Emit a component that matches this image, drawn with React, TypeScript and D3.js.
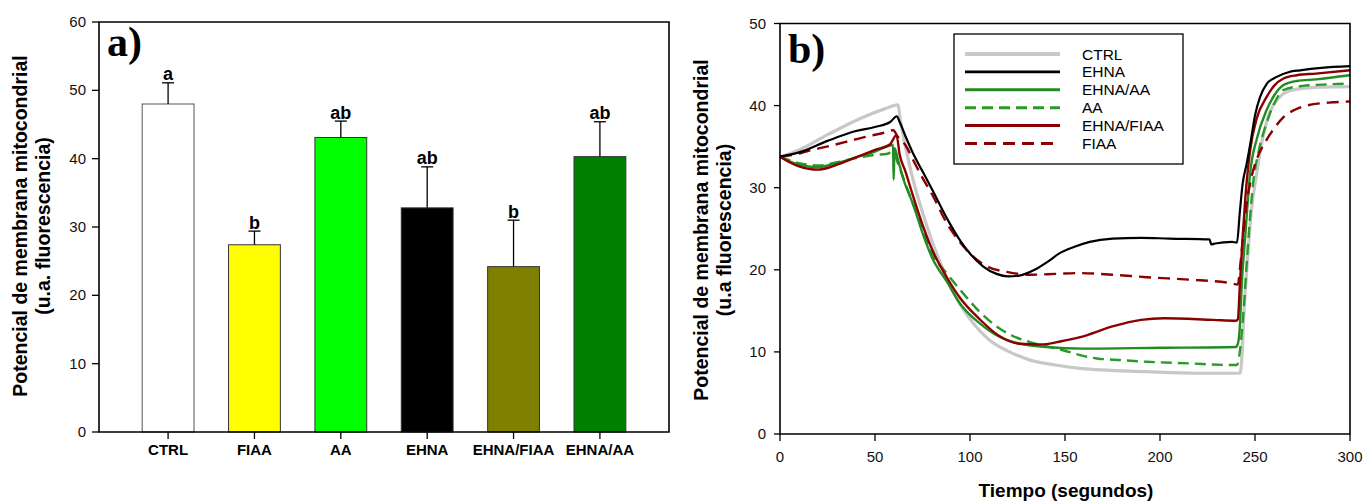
import * as d3 from 'd3';

const barCategories = ['CTRL', 'FIAA', 'AA', 'EHNA', 'EHNA/FIAA', 'EHNA/AA'];
const barMeans = [48.0, 27.4, 43.1, 32.8, 24.2, 40.3];
const barErrors = [3.1, 2.0, 2.4, 6.0, 6.8, 5.1];
const barLetters = ['a', 'b', 'ab', 'ab', 'b', 'ab'];
const barTicks = [0, 10, 20, 30, 40, 50, 60];

const timeTicks = [0, 50, 100, 150, 200, 250, 300];
const signalTicks = [0, 10, 20, 30, 40, 50];

// [tiempo, fluorescencia]
const ctrlSeries: [number, number][] = [
  [0, 33.7], [10, 34.6], [24.6, 36.4], [42, 38.4], [55, 39.6], [62, 40.1],
  [63.5, 38], [66, 35], [70, 31], [75, 27], [80, 23.5], [85, 20.5], [90, 17.8],
  [95, 15.7], [100, 14], [110.5, 11.4], [120, 10.1], [131.6, 9.0], [145, 8.4],
  [158, 8.0], [193, 7.6], [220, 7.4], [242, 7.4], [243, 9], [244, 14], [246, 21],
  [248, 27], [250.9, 31.7], [254, 36], [258, 39.3], [262, 40.8], [268.4, 41.8],
  [280, 42.2], [300, 42.3],
];
const ehnaSeries: [number, number][] = [
  [0, 33.8], [10, 34.3], [25, 35.7], [40, 36.9], [50, 37.4], [58, 38], [61.5, 38.7],
  [63, 38], [66, 36.3], [70, 34.2], [75, 32], [80, 29.8], [88, 26.2], [95, 23.5],
  [101, 21.7], [107, 20.4], [114, 19.5], [120, 19.2], [126, 19.3], [134, 20],
  [141, 21], [147, 22], [155, 22.8], [163, 23.4], [175, 23.8], [190, 23.9],
  [205, 23.8], [226, 23.7], [227, 23.1], [229, 23.2], [238, 23.4], [240.5, 23.3],
  [242, 27], [243.5, 30.5], [245.6, 32.9], [248, 36], [250, 38.8], [252.6, 41.0],
  [256, 42.6], [261.4, 43.5], [268, 44.1], [273.7, 44.3], [285, 44.6], [300, 44.8],
];
const ehnaAaSeries: [number, number][] = [
  [0, 33.8], [5, 33.2], [10, 32.8], [19.3, 32.5], [30, 33], [40, 33.7], [50, 34.4],
  [59.5, 35.2], [59.8, 31], [60.3, 34.8], [62, 33.5], [65, 31], [70, 28], [75, 24.5],
  [80, 21.5], [88, 18.5], [95, 15.8], [105, 13.5], [115, 11.9], [123, 11.2],
  [140, 10.6], [160, 10.4], [200, 10.5], [240, 10.6], [241, 11], [242, 13],
  [243, 18], [245, 24.5], [247.4, 31.7], [251, 36], [256, 39.4], [260, 41.2],
  [265, 42.5], [272, 43], [282, 43.2], [300, 43.7],
];
const aaSeries: [number, number][] = [
  [0, 33.8], [10, 33], [20, 32.7], [30, 33.1], [40, 33.6], [50, 34], [56, 34.1],
  [59.5, 34.4], [62, 33], [66, 30.5], [70, 28], [75, 25], [80, 22], [88, 19.5],
  [96.5, 17.1], [105, 14.9], [114, 13.1], [122, 12], [131.6, 11.2], [140, 10.7],
  [149, 10.2], [158, 9.6], [166.7, 9.2], [180, 9.0], [193, 8.8], [215, 8.6],
  [238.6, 8.4], [240.5, 8.4], [242, 10], [244, 15], [246, 22], [249, 30.5],
  [252, 34.5], [256, 37.8], [260, 40.2], [265, 41.9], [275, 42.4], [290, 42.6],
  [300, 42.7],
];
const ehnaFiaaSeries: [number, number][] = [
  [0, 33.8], [5, 33.1], [10, 32.6], [15, 32.3], [20, 32.2], [25, 32.4], [30, 32.8],
  [40, 33.7], [50, 34.6], [58, 35.3], [61.3, 36.4], [63, 34], [66, 32], [70, 29],
  [75, 25.5], [80, 22.5], [88, 19], [95, 16.5], [105, 14.0], [115, 12], [126, 11.0],
  [137, 10.9], [148, 11.3], [158, 11.8], [175, 13.1], [190, 13.9], [202, 14.1],
  [228, 13.9], [240, 13.8], [241, 14], [242, 18], [243.5, 24], [245, 29],
  [247.4, 34.5], [251, 38.5], [256, 41.0], [260, 42.4], [265, 43.3], [272, 43.7],
  [282, 43.9], [300, 44.3],
];
const fiaaSeries: [number, number][] = [
  [0, 33.8], [7, 34], [15, 34.5], [24.6, 35], [35, 35.6], [45, 36.2], [55, 36.7],
  [59.6, 37.0], [62, 36.2], [66, 35.2], [70, 33.4], [75, 31.2], [80, 29.2], [88, 25.6],
  [95, 23.3], [101.7, 21.6], [110, 20.3], [119.3, 19.75], [131.6, 19.4], [145, 19.5],
  [157.9, 19.6], [175, 19.4], [193, 19.1], [215, 18.8], [236.8, 18.4], [241, 18.2],
  [242, 20], [243.5, 23.5], [245, 27], [247.4, 30.5], [251, 33.5], [256, 35.8],
  [260, 37.2], [265, 38.6], [271, 39.5], [277, 40.0], [291, 40.4], [300, 40.5],
];

const legendOrder = ['CTRL', 'EHNA', 'EHNA/AA', 'AA', 'EHNA/FIAA', 'FIAA'];

const barFill: Record<string, string> = {
  CTRL: '#ffffff',
  FIAA: '#ffff00',
  AA: '#00ff00',
  EHNA: '#000000',
  'EHNA/FIAA': '#808000',
  'EHNA/AA': '#008000',
};

const traceStyle: Record<string, { color: string; width: number; dash?: string }> = {
  CTRL: { color: '#c8c8c8', width: 3.2 },
  EHNA: { color: '#000000', width: 2.2 },
  'EHNA/AA': { color: '#228b22', width: 2.4 },
  AA: { color: '#2a9a2a', width: 2.4, dash: '11,6' },
  'EHNA/FIAA': { color: '#8b0000', width: 2.4 },
  FIAA: { color: '#8b0000', width: 2.4, dash: '12,7' },
};

const traces: Record<string, [number, number][]> = {
  CTRL: ctrlSeries,
  AA: aaSeries,
  'EHNA/AA': ehnaAaSeries,
  FIAA: fiaaSeries,
  'EHNA/FIAA': ehnaFiaaSeries,
  EHNA: ehnaSeries,
};

const font = '"Liberation Sans", Arial, sans-serif';
const serif = '"Liberation Serif", "Times New Roman", serif';

const BarPanel = () => {
  const x = d3.scalePoint<string>().domain(barCategories).range([99, 669]).padding(0.8);
  const y = d3.scaleLinear().domain([0, 60]).range([432, 22]);
  const bw = x.step() * 0.6;
  return (
    <g>
      {barCategories.map((c, i) => {
        const cx = x(c)!;
        const top = y(barMeans[i]);
        const eTop = y(barMeans[i] + barErrors[i]);
        return (
          <g key={c}>
            <rect x={cx - bw / 2} y={top} width={bw} height={y(0) - top}
              fill={barFill[c]} stroke={c === 'CTRL' ? '#555' : '#333'} strokeWidth={1} />
            <line x1={cx} x2={cx} y1={top} y2={eTop} stroke="#000" strokeWidth={1.3} />
            <line x1={cx - 6} x2={cx + 6} y1={eTop} y2={eTop} stroke="#000" strokeWidth={1.3} />
            <text x={cx} y={eTop - 2.5} textAnchor="middle" fontFamily={font}
              fontWeight="bold" fontSize={18}>{barLetters[i]}</text>
            <line x1={cx} x2={cx} y1={432} y2={439} stroke="#000" strokeWidth={1.3} />
            <text x={cx} y={455} textAnchor="middle" fontFamily={font}
              fontWeight="bold" fontSize={15}>{c}</text>
          </g>
        );
      })}
      {barTicks.map((t) => (
        <g key={t}>
          <line x1={92} x2={99} y1={y(t)} y2={y(t)} stroke="#000" strokeWidth={1.3} />
          <text x={86} y={y(t) + 5} textAnchor="end" fontFamily={font} fontSize={15}
            fill="#111">{t}</text>
        </g>
      ))}
      <path d="M99,22V432H669V22Z" fill="none" stroke="#000" strokeWidth={1.6} />
      <text x={107} y={56} fontFamily={serif} fontWeight="bold" fontSize={42}>a)</text>
      <g transform="translate(27,226) rotate(-90)">
        <text textAnchor="middle" fontFamily={font} fontWeight="bold" fontSize={19.5}>
          Potencial de membrana mitocondrial
        </text>
        <text y={23} textAnchor="middle" fontFamily={font} fontWeight="bold" fontSize={19.5}>
          (u.a. fluorescencia)
        </text>
      </g>
    </g>
  );
};

const TracePanel = () => {
  const x = d3.scaleLinear().domain([0, 300]).range([780, 1350]);
  const y = d3.scaleLinear().domain([0, 50]).range([434, 23.5]);
  const line = d3
    .line<[number, number]>()
    .x((d) => x(d[0]))
    .y((d) => y(d[1]))
    .curve(d3.curveMonotoneX);
  return (
    <g>
      {Object.keys(traces).map((k) => {
        const s = traceStyle[k];
        return (
          <path key={k} d={line(traces[k]) || ''} fill="none" stroke={s.color}
            strokeWidth={s.width} strokeDasharray={s.dash} strokeLinejoin="round" />
        );
      })}
      {timeTicks.map((t) => (
        <g key={t}>
          <line x1={x(t)} x2={x(t)} y1={434} y2={441} stroke="#000" strokeWidth={1.3} />
          <text x={x(t)} y={462} textAnchor="middle" fontFamily={font} fontSize={15}
            fill="#111">{t}</text>
        </g>
      ))}
      {signalTicks.map((t) => (
        <g key={t}>
          <line x1={774} x2={780} y1={y(t)} y2={y(t)} stroke="#000" strokeWidth={1.3} />
          <text x={766} y={y(t) + 5} textAnchor="end" fontFamily={font} fontSize={15}
            fill="#111">{t}</text>
        </g>
      ))}
      <path d="M780,23.5V434H1350V23.5Z" fill="none" stroke="#000" strokeWidth={1.6} />
      <text x={788} y={63} fontFamily={serif} fontWeight="bold" fontSize={42}>b)</text>
      <g>
        <rect x={954} y={34} width={229} height={130} fill="#fff" stroke="#000" strokeWidth={1.3} />
        {legendOrder.map((k, i) => {
          const s = traceStyle[k];
          const ry = 54 + i * 17.9;
          return (
            <g key={k}>
              <line x1={965} x2={1060} y1={ry} y2={ry} stroke={s.color}
                strokeWidth={s.width + 0.6} strokeDasharray={s.dash} />
              <text x={1082} y={ry + 5.5} fontFamily={font} fontSize={15.5}>{k}</text>
            </g>
          );
        })}
      </g>
      <text x={1066} y={497} textAnchor="middle" fontFamily={font} fontWeight="bold"
        fontSize={19}>Tiempo (segundos)</text>
      <g transform="translate(708,230) rotate(-90)">
        <text textAnchor="middle" fontFamily={font} fontWeight="bold" fontSize={19.5}>
          Potencial de membrana mitocondrial
        </text>
        <text y={23} textAnchor="middle" fontFamily={font} fontWeight="bold" fontSize={19.5}>
          (u.a fluorescencia)
        </text>
      </g>
    </g>
  );
};

export default function App() {
  return (
    <svg width={1364} height={502} style={{ position: 'absolute', left: 0, top: 0, background: '#fff' }}>
      <rect width={1364} height={502} fill="#fff" />
      <BarPanel />
      <TracePanel />
    </svg>
  );
}
